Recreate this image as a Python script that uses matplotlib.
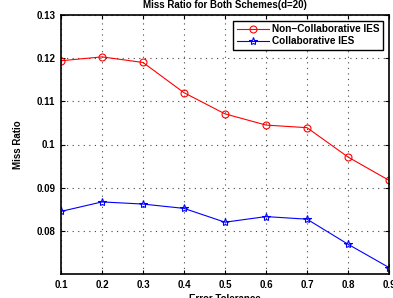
import matplotlib
matplotlib.use("Agg")
import matplotlib.pyplot as plt

error_tolerance = [0.1, 0.2, 0.3, 0.4, 0.5, 0.6, 0.7, 0.8, 0.9]
non_collab = [0.1194, 0.1203, 0.1190, 0.1120, 0.1071, 0.1045, 0.1039, 0.0971, 0.0917]
collab = [0.0845, 0.0867, 0.0862, 0.0852, 0.0820, 0.0833, 0.0827, 0.0769, 0.0715]
y_ticks = [0.08, 0.09, 0.1, 0.11, 0.12, 0.13]
y_tick_labels = ["0.08", "0.09", "0.1", "0.11", "0.12", "0.13"]

plt.rcParams['font.family'] = ['Liberation Sans', 'DejaVu Sans']
plt.rcParams['font.weight'] = 'bold'

W, H = 393, 298
fig = plt.figure(figsize=(W / 100, H / 100), dpi=100)
ax = fig.add_axes([61 / W, 1 - 274 / H, (389 - 61) / W, (274 - 15) / H])

ax.plot(error_tolerance, non_collab, '-o', color='red', lw=0.8, ms=5,
        mfc='none', mew=0.8, label='Non\u2212Collaborative IES')
ax.plot(error_tolerance, collab, '-*', color='blue', lw=0.8, ms=6,
        mfc='none', mew=0.8, label='Collaborative IES')

ax.set_xlim(0.1, 0.9)
ax.set_ylim(0.07, 0.13)
ax.set_xticks(error_tolerance)
ax.set_xticklabels([f"{v:g}" for v in error_tolerance])
ax.set_yticks(y_ticks)
ax.set_yticklabels(y_tick_labels)
ax.tick_params(direction='in', top=True, right=True, length=3, width=0.8,
               labelsize=7, pad=4)
for lab in ax.get_xticklabels() + ax.get_yticklabels():
    lab.set_fontweight('bold')
for s in ax.spines.values():
    s.set_linewidth(1.2)
ax.grid(True, linestyle=(0, (1, 4)), color='#444444', lw=0.8)

ax.set_title('Miss Ratio for Both Schemes(d=20)', fontsize=7, fontweight='bold', pad=5)
ax.set_xlabel('Error Tolerance', fontsize=7, fontweight='bold', labelpad=3)
ax.set_ylabel('Miss Ratio', fontsize=7, fontweight='bold', labelpad=10)

leg = ax.legend(loc='upper right', fontsize=7.2, fancybox=False, framealpha=1,
                edgecolor='black', handlelength=3.2, borderpad=0.35,
                labelspacing=0.2, handletextpad=0.3, borderaxespad=0.6)
leg.get_frame().set_linewidth(1.0)
for t in leg.get_texts():
    t.set_fontweight('bold')

fig.savefig('out.png', dpi=100)
